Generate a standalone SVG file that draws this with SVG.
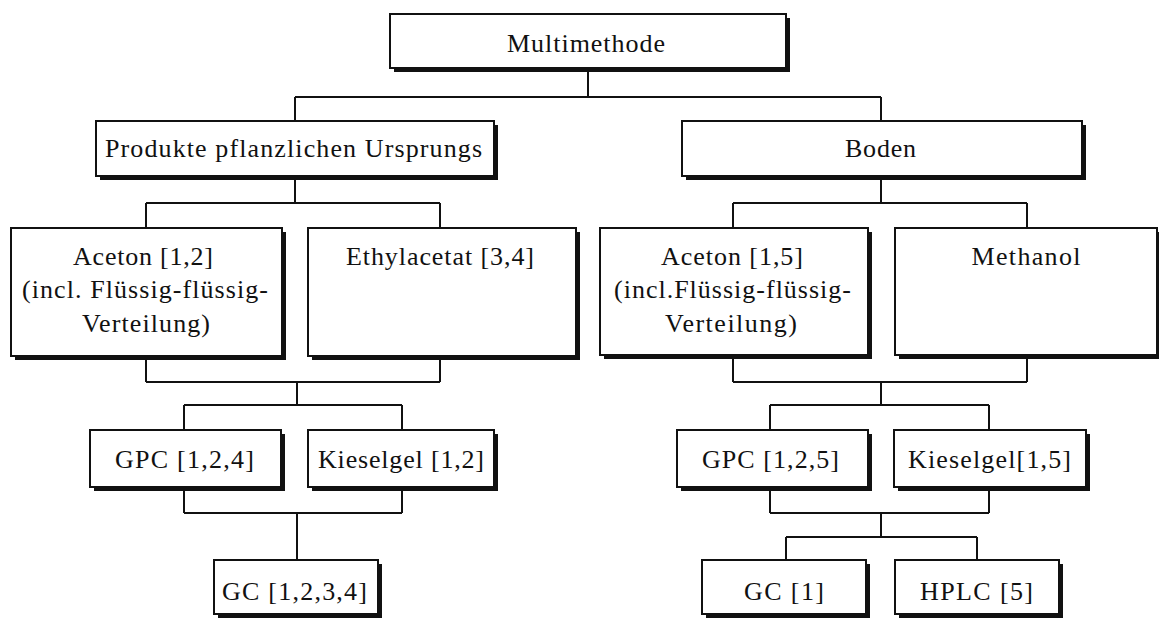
<svg xmlns="http://www.w3.org/2000/svg" width="1159" height="619" viewBox="0 0 1159 619">
<style>
.sh{fill:#111;}
.bx{fill:#fff;stroke:#111;stroke-width:2;}
.t{font-family:"Liberation Serif","Times New Roman",serif;font-size:26px;fill:#111;text-anchor:middle;}
.c{fill:none;stroke:#111;stroke-width:2;}
</style>
<rect width="1159" height="619" fill="#fff"/>
<g id="connectors">
<path class="c" d="M588 68V97M295 97H881M295 97V121M881 97V121"/>
<path class="c" d="M295 176V203M146 203H440M146 203V228M440 203V228"/>
<path class="c" d="M146 356V382M440 356V382M146 382H440M297 382V405M184 405H402M184 405V430M402 405V430"/>
<path class="c" d="M184 487V513M402 487V513M184 513H402M297 513V560"/>
<path class="c" d="M881 176V203M733 203H1027M733 203V228M1027 203V228"/>
<path class="c" d="M733 355V382M1027 355V382M733 382H1027M881 382V405M770 405H989M770 405V430M989 405V430"/>
<path class="c" d="M770 487V513M989 487V513M770 513H989M881 513V537M786 537H977M786 537V560M977 537V560"/>
</g>
<g id="n-multimethode"><rect class="sh" x="394" y="18" width="396" height="54"/><rect class="bx" x="390" y="14" width="396" height="54"/><text class="t" x="586" y="52" textLength="158">Multimethode</text></g>
<g id="n-produkte"><rect class="sh" x="100" y="125" width="398" height="55"/><rect class="bx" x="96" y="121" width="398" height="55"/><text class="t" x="293.5" y="157" textLength="377">Produkte pflanzlichen Ursprungs</text></g>
<g id="n-boden"><rect class="sh" x="686" y="125" width="400" height="55"/><rect class="bx" x="682" y="121" width="400" height="55"/><text class="t" x="880.5" y="157" textLength="71">Boden</text></g>
<g id="n-aceton12"><rect class="sh" x="15" y="232" width="271" height="128"/><rect class="bx" x="11" y="228" width="271" height="128"/><text class="t" x="143" y="265" textLength="140">Aceton [1,2]</text><text class="t" x="145" y="298" textLength="246">(incl. Flüssig-flüssig-</text><text class="t" x="146" y="332" textLength="128">Verteilung)</text></g>
<g id="n-ethylacetat"><rect class="sh" x="312" y="232" width="268" height="128"/><rect class="bx" x="308" y="228" width="268" height="128"/><text class="t" x="440" y="265" textLength="188">Ethylacetat [3,4]</text></g>
<g id="n-aceton15"><rect class="sh" x="604" y="232" width="268" height="127"/><rect class="bx" x="600" y="228" width="268" height="127"/><text class="t" x="732" y="265" textLength="142">Aceton [1,5]</text><text class="t" x="732.5" y="298" textLength="237">(incl.Flüssig-flüssig-</text><text class="t" x="731" y="332" textLength="132">Verteilung)</text></g>
<g id="n-methanol"><rect class="sh" x="899" y="232" width="262" height="127"/><rect class="bx" x="895" y="228" width="262" height="127"/><text class="t" x="1026" y="265" textLength="109">Methanol</text></g>
<g id="n-gpc124"><rect class="sh" x="94" y="434" width="191" height="57"/><rect class="bx" x="90" y="430" width="191" height="57"/><text class="t" x="184.5" y="468" textLength="139">GPC [1,2,4]</text></g>
<g id="n-kieselgel12"><rect class="sh" x="312" y="434" width="186" height="57"/><rect class="bx" x="308" y="430" width="186" height="57"/><text class="t" x="401" y="468" textLength="166">Kieselgel [1,2]</text></g>
<g id="n-gpc125"><rect class="sh" x="681" y="434" width="191" height="57"/><rect class="bx" x="677" y="430" width="191" height="57"/><text class="t" x="770.5" y="468" textLength="137">GPC [1,2,5]</text></g>
<g id="n-kieselgel15"><rect class="sh" x="898" y="434" width="192" height="57"/><rect class="bx" x="894" y="430" width="192" height="57"/><text class="t" x="989.5" y="468" textLength="163">Kieselgel[1,5]</text></g>
<g id="n-gc1234"><rect class="sh" x="218" y="564" width="164" height="54"/><rect class="bx" x="214" y="560" width="164" height="54"/><text class="t" x="294.5" y="600" textLength="145">GC [1,2,3,4]</text></g>
<g id="n-gc1"><rect class="sh" x="706" y="564" width="164" height="54"/><rect class="bx" x="702" y="560" width="164" height="54"/><text class="t" x="784" y="600" textLength="80">GC [1]</text></g>
<g id="n-hplc5"><rect class="sh" x="899" y="564" width="164" height="54"/><rect class="bx" x="895" y="560" width="164" height="54"/><text class="t" x="976.5" y="600" textLength="113">HPLC [5]</text></g>
</svg>
